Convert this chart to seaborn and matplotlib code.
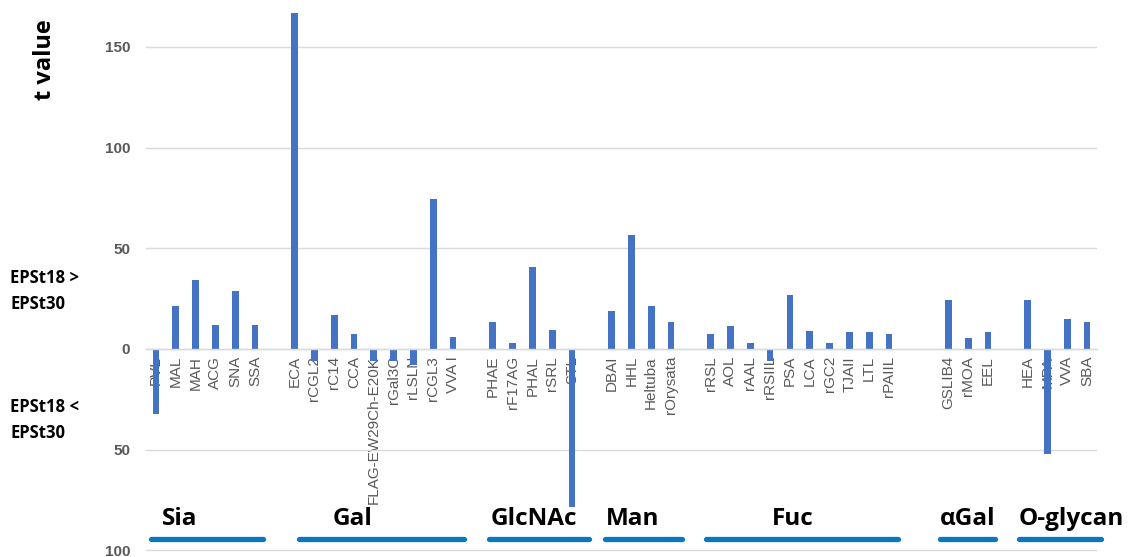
import matplotlib
matplotlib.use("Agg")
import matplotlib.pyplot as plt
from matplotlib.lines import Line2D
import seaborn as sns
import pandas as pd

# ---------------- data ----------------
groups = ["Sia", "Gal", "GlcNAc", "Man", "Fuc", "αGal", "O-glycan"]

sia_lectins = ["PVL", "MAL", "MAH", "ACG", "SNA", "SSA"]
sia_t = [-32.3, 21.5, 34.3, 11.9, 29.0, 11.9]

gal_lectins = ["ECA", "rCGL2", "rC14", "CCA", "FLAG-EW29Ch-E20K", "rGal3C", "rLSLN", "rCGL3", "VVA I"]
gal_t = [166.7, -6.0, 16.7, 7.3, -6.0, -6.0, -8.0, 74.5, 6.1]

glcnac_lectins = ["PHAE", "rF17AG", "PHAL", "rSRL", "STL"]
glcnac_t = [13.2, 3.1, 40.5, 9.3, -78.3]

man_lectins = ["DBAI", "HHL", "Heltuba", "rOrysata"]
man_t = [19.0, 56.6, 21.1, 13.6]

fuc_lectins = ["rRSL", "AOL", "rAAL", "rRSIIL", "PSA", "LCA", "rGC2", "TJAII", "LTL", "rPAIIL"]
fuc_t = [7.3, 11.6, 3.1, -6.0, 26.8, 8.9, 2.8, 8.3, 8.3, 7.3]

agal_lectins = ["GSLIB4", "rMOA", "EEL"]
agal_t = [24.2, 5.6, 8.3]

oglycan_lectins = ["HEA", "MPA", "VVA", "SBA"]
oglycan_t = [24.2, -52.3, 14.7, 13.6]

y_ticks = [-100, -50, 0, 50, 100, 150]

# ---------------- build table ----------------
group_lectins = [sia_lectins, gal_lectins, glcnac_lectins, man_lectins,
                 fuc_lectins, agal_lectins, oglycan_lectins]
group_values = [sia_t, gal_t, glcnac_t, man_t, fuc_t, agal_t, oglycan_t]
gaps_after = [1, 1, 1, 1, 2, 1, 0]

rows = []
order = []
for gi, (names, vals) in enumerate(zip(group_lectins, group_values)):
    for n, v in zip(names, vals):
        rows.append({"lectin": n, "t": v, "group": groups[gi]})
        order.append(n)
    for k in range(gaps_after[gi]):
        order.append(f"_gap{gi}_{k}")
df = pd.DataFrame(rows)

# ---------------- figure ----------------
W, H = 1131, 557
sns.set_style("white")
plt.rcParams["font.family"] = ["Liberation Sans", "DejaVu Sans"]

fig = plt.figure(figsize=(W / 100, H / 100), dpi=100)
ax = fig.add_axes([146 / W, 0, (1097 - 146) / W, 1])

sns.barplot(data=df, x="lectin", y="t", order=order, color="#4472C4",
            width=0.34, saturation=1, errorbar=None, linewidth=0, ax=ax)

ax.set_xlim(-0.5, len(order) - 0.5)
ax.set_ylim(-103.3, 173.3)
ax.set_xlabel("")
ax.set_ylabel("")

ax.set_axisbelow(True)
ax.yaxis.grid(True, color="#D9D9D9", linewidth=1)
ax.xaxis.grid(False)

ax.set_yticks(y_ticks)
ax.set_yticklabels([str(abs(v)) for v in y_ticks])
ax.set_xticks(range(len(order)))
ax.set_xticklabels(["" if o.startswith("_gap") else o for o in order])

for s in ["top", "right", "left"]:
    ax.spines[s].set_visible(False)
ax.spines["bottom"].set_position(("data", 0))
ax.spines["bottom"].set_color("#D9D9D9")
ax.spines["bottom"].set_linewidth(1)

ax.tick_params(axis="x", length=0, pad=5, labelsize=11, labelcolor="#595959",
               labelrotation=90)
ax.tick_params(axis="y", length=0, pad=11.5, labelsize=11, labelcolor="#595959")
for t in ax.get_yticklabels():
    t.set_fontweight("bold")

def fx(px):
    return px / W

def fy(py):
    return 1 - py / H

# y-axis title and side annotations
fig.text(fx(45), fy(60), "t value", rotation=90, ha="center", va="center",
         fontsize=17, fontweight="bold", family=["Open Sans", "DejaVu Sans"], color="black")
for txt, y in [("EPSt18 >", 278), ("EPSt30", 304), ("EPSt18 <", 407), ("EPSt30", 433)]:
    fig.text(fx(10), fy(y), txt, ha="left", va="center", fontsize=12,
             fontweight="bold", family=["Open Sans", "DejaVu Sans"], color="black")

# group labels with underlines
label_x = [162, 333, 491, 606, 772, 940, 1019]
line_spans = [(151, 263), (299, 464), (489, 589), (605, 682), (706, 898), (940, 995), (1019, 1101)]
for name, lx, (x0, x1) in zip(groups, label_x, line_spans):
    fig.text(fx(lx), fy(519), name, ha="left", va="center", fontsize=17.5,
             fontweight="bold", family=["Open Sans", "DejaVu Sans"], color="black")
    fig.add_artist(Line2D([fx(x0), fx(x1)], [fy(539), fy(539)], transform=fig.transFigure,
                          color="#0A77C2", linewidth=3.8, solid_capstyle="round"))

fig.savefig("out.png", dpi=100)
